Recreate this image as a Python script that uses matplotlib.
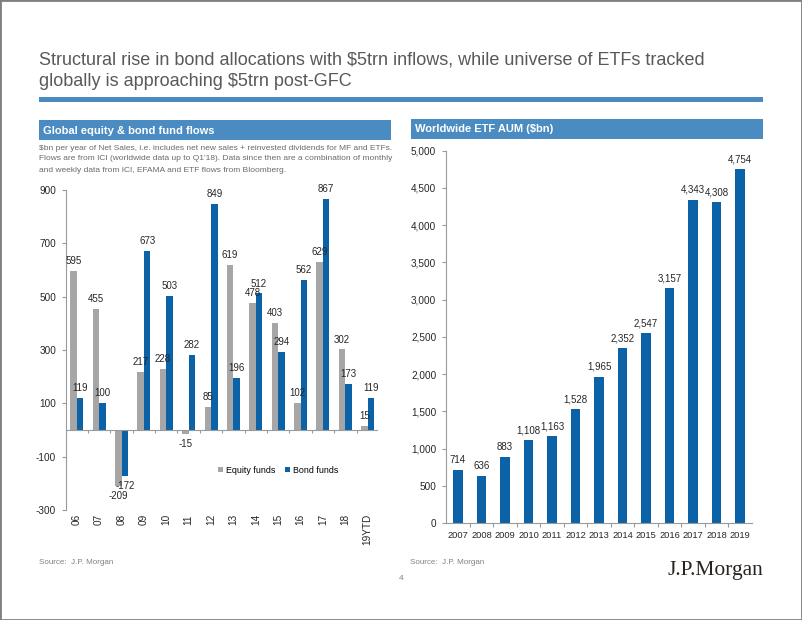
import matplotlib
matplotlib.use("Agg")
import matplotlib.pyplot as plt
from matplotlib.patches import Rectangle
from matplotlib.ticker import FuncFormatter
import numpy as np

plt.rcParams['font.family'] = ['Liberation Sans', 'DejaVu Sans']
plt.rcParams['axes.unicode_minus'] = False

# left chart: global fund flows, $bn
flow_years = ['06', '07', '08', '09', '10', '11', '12', '13', '14', '15', '16', '17', '18', '19YTD']
equity_funds = [595, 455, -209, 217, 228, -15, 85, 619, 478, 403, 102, 629, 302, 15]
bond_funds = [119, 100, -172, 673, 503, 282, 849, 196, 512, 294, 562, 867, 173, 119]

# right chart: worldwide ETF AUM, $bn
etf_years = ['2007', '2008', '2009', '2010', '2011', '2012', '2013', '2014', '2015', '2016', '2017', '2018', '2019']
etf_aum = [714, 636, 883, 1108, 1163, 1528, 1965, 2352, 2547, 3157, 4343, 4308, 4754]

W, H = 802, 620
GRAY_AX = '#9a9a9a'
BLUE = '#0b62a6'
GREY_BAR = '#a6a6a6'
HEAD = '#4a8cc2'
NUMFONT = ['Liberation Sans Narrow', 'Liberation Sans', 'DejaVu Sans']


def fx(px):
    return px / W


def fy(py):
    return 1 - py / H


fig = plt.figure(figsize=(W / 100, H / 100), dpi=100)

# frame + title
fig.add_artist(Rectangle((0, 0), 1, 1, transform=fig.transFigure, fill=False,
                         edgecolor='#7f7f7f', lw=2))
fig.text(fx(39), fy(60), 'Structural rise in bond allocations with $5trn inflows, while universe of ETFs tracked',
         fontsize=13, color='#595959', va='center')
fig.text(fx(39), fy(82), 'globally is approaching $5trn post-GFC',
         fontsize=13, color='#595959', va='center')
fig.add_artist(Rectangle((fx(39), fy(101.7)), fx(763) - fx(39), 4.4 / H,
                         transform=fig.transFigure, color='#4a8abf', lw=0))

# section headers
fig.add_artist(Rectangle((fx(39), fy(140)), fx(391) - fx(39), 20 / H,
                         transform=fig.transFigure, color=HEAD, lw=0))
fig.text(fx(43), fy(130.5), 'Global equity & bond fund flows', color='white',
         fontsize=8, fontweight='bold', va='center')
fig.add_artist(Rectangle((fx(411), fy(139)), fx(763) - fx(411), 20 / H,
                         transform=fig.transFigure, color=HEAD, lw=0))
fig.text(fx(415), fy(129.5), 'Worldwide ETF AUM ($bn)', color='white',
         fontsize=8, fontweight='bold', va='center')

note = ['$bn per year of Net Sales, i.e. includes net new sales + reinvested dividends for MF and ETFs.',
        'Flows are from ICI (worldwide data up to Q1\'18). Data since then are a combination of monthly',
        'and weekly data from ICI, EFAMA and ETF flows from Bloomberg.']
for i, line in enumerate(note):
    fig.text(fx(39), fy(148 + i * 11), line, fontsize=6, color='#6a6a6a', va='center')

# ---- left chart
ax1 = fig.add_axes([fx(66), fy(510), fx(378) - fx(66), 320 / H])
x = np.arange(len(flow_years))
bw = 0.29
b1 = ax1.bar(x - bw / 2, equity_funds, bw, color=GREY_BAR, label='Equity funds')
b2 = ax1.bar(x + bw / 2, bond_funds, bw, color=BLUE, label='Bond funds')
for bars, vals in [(b1, equity_funds), (b2, bond_funds)]:
    for b, v in zip(bars, vals):
        cx = b.get_x() + b.get_width() / 2
        if v >= 0:
            ax1.annotate(str(v), (cx, v), xytext=(0, 3.5), textcoords='offset points',
                         ha='center', va='bottom', fontsize=7, color='#262626', family=NUMFONT)
        else:
            ax1.annotate(str(v), (cx, v), xytext=(0, -3.5), textcoords='offset points',
                         ha='center', va='top', fontsize=7, color='#262626', family=NUMFONT)

ax1.set_xlim(-0.48, 13.46)
ax1.set_ylim(-300, 900)
ax1.set_yticks([900, 700, 500, 300, 100, -100, -300])
ax1.axhline(0, color=GRAY_AX, lw=0.8)
ax1.vlines(np.arange(len(flow_years) - 1) + 0.5, -11, 0, color=GRAY_AX, lw=0.8)
ax1.set_xticks(x)
ax1.set_xticklabels(flow_years, rotation=90, family=NUMFONT)
for s in ['top', 'right', 'bottom']:
    ax1.spines[s].set_visible(False)
ax1.spines['left'].set_color(GRAY_AX)
ax1.spines['left'].set_linewidth(0.8)
ax1.tick_params(axis='x', length=0, pad=3, labelsize=7.2, colors='#262626')
ax1.tick_params(axis='y', length=3, width=0.8, color=GRAY_AX, pad=4, labelsize=7.2,
                labelcolor='#262626')
for t in ax1.get_yticklabels():
    t.set_family(NUMFONT)
ax1.legend(loc='center', bbox_to_anchor=(0.68, 0.125), ncol=2, frameon=False,
           fontsize=6.4, handlelength=0.6, handleheight=0.6, handletextpad=0.3,
           columnspacing=1.1, borderaxespad=0)

# ---- right chart
ax2 = fig.add_axes([fx(446), fy(523), fx(752) - fx(446), (523 - 150.7) / H])
x2 = np.arange(len(etf_years))
bars = ax2.bar(x2, etf_aum, 0.4, color=BLUE)
for b, v in zip(bars, etf_aum):
    ax2.annotate(f'{v:,}', (b.get_x() + b.get_width() / 2, v), xytext=(0, 3.5),
                 textcoords='offset points', ha='center', va='bottom', fontsize=7,
                 color='#262626', family=NUMFONT)
ax2.set_xlim(-0.51, 12.51)
ax2.set_ylim(0, 5000)
ax2.set_yticks(range(0, 5001, 500))
ax2.yaxis.set_major_formatter(FuncFormatter(lambda v, p: f'{int(v):,}'))
ax2.set_xticks(x2)
ax2.set_xticklabels(etf_years, family=NUMFONT)
ax2.set_xticks(np.arange(len(etf_years) - 1) + 0.5, minor=True)
for s in ['top', 'right']:
    ax2.spines[s].set_visible(False)
for s in ['left', 'bottom']:
    ax2.spines[s].set_color(GRAY_AX)
    ax2.spines[s].set_linewidth(0.8)
ax2.tick_params(axis='x', which='major', length=0, pad=6, labelsize=6.7, colors='#262626')
ax2.tick_params(axis='x', which='minor', length=3, width=0.8, color=GRAY_AX)
ax2.tick_params(axis='y', length=3, width=0.8, color=GRAY_AX, pad=4, labelsize=7.2,
                labelcolor='#262626')
for t in ax2.get_yticklabels():
    t.set_family(NUMFONT)

# footer
fig.text(fx(39), fy(563), 'Source:  J.P. Morgan', fontsize=5.8, color='#808080', va='center')
fig.text(fx(410), fy(563), 'Source:  J.P. Morgan', fontsize=5.8, color='#808080', va='center')
fig.text(fx(401), fy(578), '4', fontsize=6, color='#808080', va='center', ha='center')
fig.text(fx(763), fy(575), 'J.P.Morgan', fontsize=15.5, color='#2a2420', ha='right',
         va='baseline', family=['Liberation Serif', 'DejaVu Serif'])

fig.savefig('out.png', dpi=100)
